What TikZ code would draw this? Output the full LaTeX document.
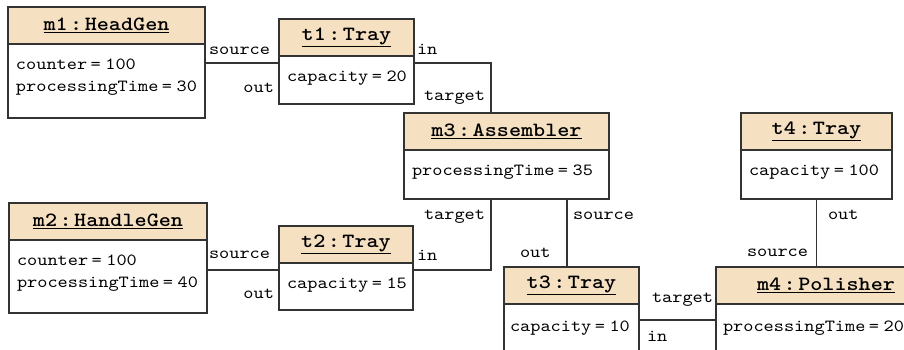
\documentclass[tikz,border=0pt]{standalone}
\usepackage{fontspec}
\setmonofont{lmmono10-regular.otf}[FakeStretch=1.14, BoldFont=lmmonolt10-bold.otf]
\usetikzlibrary{positioning}
\definecolor{objhead}{RGB}{245,224,194}
\definecolor{objline}{RGB}{51,51,51}
\newcommand{\eq}{\kern3.5pt=\kern4.5pt}
\newcommand{\of}{\kern2.5pt:\kern2.5pt}

\begin{document}
\begin{tikzpicture}[x=1pt, y=-1pt,
    every node/.style={font=\fontsize{17}{22}\selectfont\ttfamily, outer sep=0pt},
    head/.style={draw=objline, fill=objhead, line width=1.6pt, anchor=north west,
        minimum height=37pt, inner sep=0pt,
        font=\fontsize{20.2}{22}\selectfont\ttfamily\bfseries},
    body/.style={draw=objline, fill=white, line width=1.6pt, inner sep=0pt},
    attr/.style={anchor=north west, align=left, inner sep=0pt},
    role/.style={inner sep=0pt},
    link/.style={draw=objline, line width=1.8pt}]

    % canvas
    \useasboundingbox (0,0) rectangle (904,350);
    \clip (0,0) rectangle (904,350);
    \fill[white] (0,0) rectangle (904,350);

    % machines and trays
    \node[head, minimum width=197pt] (m1h) at (8,7) {\underline{m1\of HeadGen}};
    \node[body, minimum width=197pt, minimum height=74pt, below=0pt of m1h] (m1b) {};
    \node[head, minimum width=135pt] (t1h) at (279,19) {\underline{t1\of Tray}};
    \node[body, minimum width=135pt, minimum height=48pt, below=0pt of t1h] (t1b) {};
    \node[head, minimum width=205pt] (m3h) at (404,113) {\underline{m3\of Assembler}};
    \node[body, minimum width=205pt, minimum height=49pt, below=0pt of m3h] (m3b) {};
    \node[head, minimum width=151pt] (t4h) at (741,113) {\underline{t4\of Tray}};
    \node[body, minimum width=151pt, minimum height=49pt, below=0pt of t4h] (t4b) {};
    \node[head, minimum width=198pt] (m2h) at (9,203) {\underline{m2\of HandleGen}};
    \node[body, minimum width=198pt, minimum height=73pt, below=0pt of m2h] (m2b) {};
    \node[head, minimum width=134pt] (t2h) at (279,226) {\underline{t2\of Tray}};
    \node[body, minimum width=134pt, minimum height=47pt, below=0pt of t2h] (t2b) {};
    \node[head, minimum width=135pt] (t3h) at (504,267) {\underline{t3\of Tray}};
    \node[body, minimum width=135pt, minimum height=100pt, below=0pt of t3h] (t3b) {};
    \node[head, minimum width=220pt] (m4h) at (716,267) {\underline{m4\of Polisher}};
    \node[body, minimum width=220pt, minimum height=100pt, below=0pt of m4h] (m4b) {};

    % attribute values
    \node[attr] (m1a) at ([xshift=8pt,yshift=-15pt]m1b.north west) {counter\eq100\\processingTime\eq30};
    \node[attr] (t1a) at ([xshift=8pt,yshift=-15pt]t1b.north west) {capacity\eq20};
    \node[attr] (m3a) at ([xshift=8pt,yshift=-15pt]m3b.north west) {processingTime\eq35};
    \node[attr] (t4a) at ([xshift=8pt,yshift=-15pt]t4b.north west) {capacity\eq100};
    \node[attr] (m2a) at ([xshift=8pt,yshift=-15pt]m2b.north west) {counter\eq100\\processingTime\eq40};
    \node[attr] (t2a) at ([xshift=8pt,yshift=-15pt]t2b.north west) {capacity\eq15};
    \node[attr] (t3a) at ([xshift=6pt,yshift=-17pt]t3b.north west) {capacity\eq10};
    \node[attr] (m4a) at ([xshift=7pt,yshift=-17pt]m4b.north west) {processingTime\eq20};

    % links
    \draw[link] ([yshift=-19pt]m1b.north east) -- ([yshift=-7pt]t1b.north west);
    \draw[link] ([yshift=-7pt]t1b.north east) -| ([xshift=87pt]m3h.north west);
    \draw[link] ([yshift=-30pt]m2b.north east) -- ([yshift=-7pt]t2b.north west);
    \draw[link] ([yshift=-7pt]t2b.north east) -| ([xshift=87pt]m3b.south west);
    \draw[link] ([xshift=163pt]m3b.south west) -- ([xshift=63pt]t3h.north west);
    \draw[link] ([yshift=-16pt]t3b.north east) -- ([yshift=-16pt]m4b.north west);
    \draw[link] (t4b.south) -- (t4b.south |- m4h.north);

    % role names
    \node[role, anchor=base west] (m1src) at (209,55) {source};
    \node[role, anchor=base east] (t1out) at (274,93) {out};
    \node[role, anchor=base west] (t1in) at (417,55) {in};
    \node[role, anchor=base west] (m3tgt1) at (424,101) {target};
    \node[role, anchor=base west] (m2src) at (209,258) {source};
    \node[role, anchor=base east] (t2out) at (274,298) {out};
    \node[role, anchor=base west] (t2in) at (417,260) {in};
    \node[role, anchor=base west] (m3tgt2) at (424,219) {target};
    \node[role, anchor=base west] (m3src) at (573,219) {source};
    \node[role, anchor=base west] (t3out) at (520,257) {out};
    \node[role, anchor=base west] (m4tgt) at (652,302) {target};
    \node[role, anchor=base west] (t3in) at (647,341) {in};
    \node[role, anchor=base west] (t4out) at (828,219) {out};
    \node[role, anchor=base west] (m4src) at (747,256) {source};
\end{tikzpicture}
\end{document}
